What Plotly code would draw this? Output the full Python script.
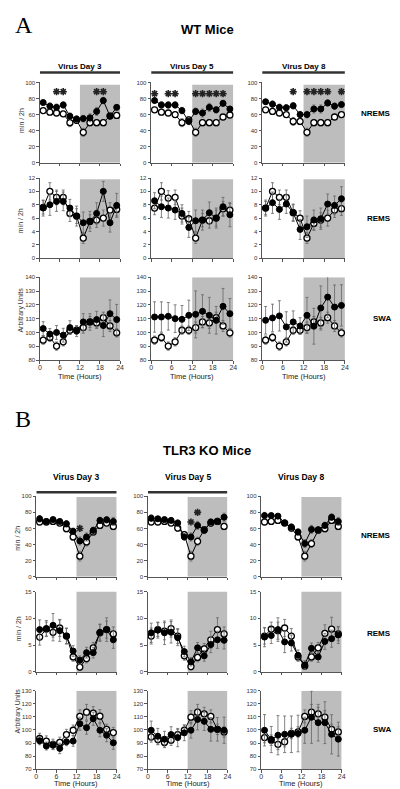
import plotly.graph_objects as go

W, H = 400, 789

HOURS = [1, 3, 5, 7, 9, 11, 13, 15, 17, 19, 21, 23]
TICK_HOURS = [0, 6, 12, 18, 24]
DARK_START, DARK_END = 12, 24
DAYS = ["Virus Day 3", "Virus Day 5", "Virus Day 8"]
ROWS = ["NREMS", "REMS", "SWA"]

# ---------------- Panel A: WT mice ----------------
A_NREMS_D3_VIRUS = [75, 70.5, 69, 72, 58, 54.5, 55, 56, 64, 77.5, 58, 69]
A_NREMS_D3_SHAM = [65, 63, 62, 61, 50, 53, 38, 50, 50, 50, 58.5, 59]
A_NREMS_D5_VIRUS = [77.5, 72, 72, 72, 65, 51.5, 64, 62, 69, 66, 74, 67]
A_NREMS_D5_SHAM = [66, 63, 62, 60, 50, 53.5, 38, 50, 50, 50, 57, 59.5]
A_NREMS_D8_VIRUS = [76, 73, 69, 68.5, 71, 60, 60, 67, 67, 74.5, 70.5, 72.5]
A_NREMS_D8_SHAM = [66, 64, 62, 60, 51.5, 51.5, 38, 50, 50, 50, 57, 60]
A_NREMS_VIRUS_ERR = [3, 4, 4, 4, 4, 4, 4, 5, 5, 4, 4, 3]
A_NREMS_SHAM_ERR = [3, 3, 3, 3, 5, 4, 5, 4, 4, 4, 3, 3]

A_REMS_D3_VIRUS = [7.5, 8.0, 8.5, 8.5, 7.5, 6.3, 5.3, 5.5, 6.7, 10, 5.3, 7.9]
A_REMS_D3_SHAM = [7.6, 10, 9.1, 9.1, 6.7, 6.3, 3, 5.5, 5.7, 6, 7.2, 7.3]
A_REMS_D5_VIRUS = [8.6, 7.7, 7.5, 7.2, 6.7, 4.6, 5.6, 5.7, 6.8, 6, 7.7, 6.5]
A_REMS_D5_SHAM = [7.5, 10, 9, 9.1, 6.3, 5.9, 3, 5.7, 5.6, 6, 7.4, 7.2]
A_REMS_D8_VIRUS = [7.5, 8.3, 7.3, 8.1, 6.8, 4.3, 4.7, 5.7, 5.9, 8.1, 7.9, 8.9]
A_REMS_D8_SHAM = [7.5, 10, 9.1, 9.1, 6.8, 6, 3, 5.2, 5.7, 6, 7.2, 7.4]
A_REMS_VIRUS_ERR = [1.2, 1.6, 1.5, 1.4, 1.3, 1.5, 1.6, 1.5, 1.6, 1.5, 1.4, 1.8]
A_REMS_SHAM_ERR = [1.0, 1.3, 1.1, 1.1, 1.2, 1.1, 0.8, 1.0, 1.1, 1.2, 1.1, 1.0]

A_SWA_D3_VIRUS = [102.8, 98.8, 100, 98, 103.5, 101, 107.6, 107.6, 109.3, 105, 113.6, 109.3]
A_SWA_D3_SHAM = [94.4, 96.4, 90.1, 93.2, 101.6, 101.6, 103.5, 107.6, 106.9, 110.7, 104.7, 99.7]
A_SWA_D5_VIRUS = [111.2, 111.2, 111.7, 110, 109.5, 112.4, 113.1, 115.3, 112.4, 108.8, 118.9, 113.6]
A_SWA_D5_SHAM = [94.4, 96.4, 90.1, 93.2, 101.6, 101.6, 103.5, 107.6, 106.9, 110.7, 104.7, 99.7]
A_SWA_D8_VIRUS = [108.8, 110.5, 112, 104, 107.6, 104.7, 112.4, 104.5, 117.7, 125.6, 118.4, 119.6]
A_SWA_D8_SHAM = [94.4, 96.4, 90.1, 93.2, 101.6, 101.6, 103.5, 107.6, 106.9, 110.7, 104.7, 99.7]
A_SWA_D3_VIRUS_ERR = [5, 4, 5, 5, 5, 4, 6, 6, 6, 8, 10, 11]
A_SWA_D5_VIRUS_ERR = [11, 11, 10, 10, 10, 11, 17, 12, 13, 10, 13, 11]
A_SWA_D8_VIRUS_ERR = [10, 10, 11, 11, 8, 6, 13, 13, 16, 15, 16, 15]
A_SWA_SHAM_ERR = [3, 3, 3, 3, 3, 3, 4, 4, 4, 4, 4, 3]

A_STAR_HOURS = [[5, 7, 17, 19], [1, 5, 7, 13, 15, 17, 19, 21], [9, 13, 15, 17, 19, 23]]
A_STAR_LEVEL = [88.5, 86, 88.5]

# ---------------- Panel B: TLR3 KO mice ----------------
B_NREMS_D3_VIRUS = [72, 68.7, 71, 68.7, 65.8, 56.4, 44.4, 49.4, 57.6, 70, 70.8, 68.7]
B_NREMS_D3_SHAM = [68, 68, 68.7, 66.7, 59.7, 49.4, 25.5, 43.2, 55.6, 63.8, 66.7, 62.5]
B_NREMS_D5_VIRUS = [72.8, 72, 71, 70, 66.7, 49.4, 49.4, 63.8, 57.6, 68, 68.7, 74]
B_NREMS_D5_SHAM = [68, 68, 68.7, 66.7, 60.5, 52.3, 25.5, 44, 58.4, 66.7, 68.7, 62.5]
B_NREMS_D8_VIRUS = [76, 76, 75.3, 67, 61.7, 55.6, 41.2, 58.8, 58.4, 63.8, 74, 68.7]
B_NREMS_D8_SHAM = [68, 68.7, 70, 66.7, 60.5, 49.4, 25.5, 41.2, 57.6, 59.7, 70, 62.5]
B_NREMS_VIRUS_ERR = [4, 3, 3, 3, 4, 4, 5, 5, 4, 4, 4, 5]
B_NREMS_SHAM_ERR = [3, 3, 3, 3, 4, 4, 6, 5, 4, 4, 3, 4]

B_REMS_D3_VIRUS = [7.9, 8.1, 8.7, 7.7, 6.7, 3.9, 2.2, 3.6, 3.6, 7.4, 7.9, 6.0]
B_REMS_D3_SHAM = [6.5, 8.0, 7.4, 8.2, 6.7, 2.8, 0.9, 2.5, 4.5, 7.3, 7.9, 7.1]
B_REMS_D5_VIRUS = [7.3, 7.8, 7.3, 7.4, 6.4, 3.8, 1.9, 4.5, 3.0, 5.1, 6.0, 5.9]
B_REMS_D5_SHAM = [6.7, 7.9, 7.6, 8.1, 6.7, 3.0, 1.0, 2.7, 4.3, 6.0, 7.9, 7.1]
B_REMS_D8_VIRUS = [6.5, 6.8, 7.9, 5.6, 5.4, 3.1, 1.3, 4.4, 2.8, 5.7, 6.2, 6.9]
B_REMS_D8_SHAM = [6.7, 8.0, 7.7, 8.2, 6.7, 2.8, 1.1, 2.8, 4.5, 7.2, 8.0, 7.1]
B_REMS_VIRUS_ERR = [1.8, 1.5, 2.2, 2.0, 1.5, 1.0, 0.8, 1.0, 1.0, 1.5, 1.6, 1.6]
B_REMS_SHAM_ERR = [1.5, 1.3, 1.6, 1.6, 1.4, 0.8, 0.6, 0.8, 1.0, 1.6, 2.2, 1.3]

B_SWA_D3_VIRUS = [91.7, 87.7, 88.4, 85.9, 91, 91.5, 104.8, 101.8, 108.6, 99.8, 96, 90.2]
B_SWA_D3_SHAM = [93.5, 91.5, 89, 90.5, 96.5, 99.8, 110.4, 113.6, 112.9, 110.6, 100.5, 98]
B_SWA_D5_VIRUS = [99.8, 95.2, 93, 96.5, 94.2, 97.8, 99.8, 108.1, 106.6, 100.5, 100.5, 99.8]
B_SWA_D5_SHAM = [94.7, 92.7, 90.5, 92.2, 96.5, 99.8, 109.8, 113.6, 112.4, 110.4, 100.5, 98.5]
B_SWA_D8_VIRUS = [99.8, 92.7, 96, 96.7, 96.7, 97.3, 99.8, 109.8, 105.6, 105.6, 96.7, 93]
B_SWA_D8_SHAM = [94.2, 92.2, 89, 91, 97.3, 98.5, 110.4, 113.6, 112.4, 109.8, 100.5, 98.5]
B_SWA_D3_VIRUS_ERR = [3, 3, 3, 4, 3, 4, 5, 5, 5, 5, 5, 5]
B_SWA_D5_VIRUS_ERR = [7, 6, 6, 6, 7, 6, 6, 8, 7, 9, 9, 10]
B_SWA_D8_VIRUS_ERR = [12, 10, 15, 14, 14, 14, 10, 20, 14, 16, 15, 13]
B_SWA_SHAM_ERR = [4, 4, 4, 4, 4, 4, 5, 6, 5, 5, 4, 4]

B_STAR_HOURS = [[13], [13, 15], []]
B_STAR_LEVELS = [[60], [68, 80], []]

# ---------------- Layout geometry (pixels) ----------------
PANELS = {
    "A": {
        "rows": [(72, 153, [0, 100], 20, "min / 2h"),
                 (168.3, 249, [0, 12], 2, "min / 2h"),
                 (268.3, 351.7, [80, 140], 10, "Arbitrary Units")],
        "shade_top": [97, 11.8, 140],
        "cols": [(30.3, 111.7), (143.3, 226.7), (256, 340)],
        "title": "WT Mice", "title_y": 19, "letter": "A", "letter_y": 14,
        "day_y": 55.5, "bar_y": 62, "bars": [0, 1, 2],
        "row_label_y": [103, 209, 310], "ytitle_y": [110, 211, 301], "ytitle_x": 11,
        "time_y": 368.5, "day_size": 8,
    },
    "B": {
        "rows": [(489, 570, [0, 100], 20, "min / 2h"),
                 (585, 666, [0, 15], 5, "min / 2h"),
                 (685, 764, [70, 130], 10, "Arbitrary Units")],
        "shade_top": [99, 15, 130],
        "cols": [(26.7, 108.3), (140, 220.7), (255, 336.7)],
        "title": "TLR3 KO Mice", "title_y": 443, "letter": "B", "letter_y": 411,
        "day_y": 470, "bar_y": 485, "bars": [0, 1],
        "row_label_y": [529, 627, 724], "ytitle_y": [531, 622, 705], "ytitle_x": 8,
        "time_y": 778.5, "day_size": 8.5,
    },
}

DATA = {
    "A": [
        [(A_NREMS_D3_VIRUS, A_NREMS_VIRUS_ERR, A_NREMS_D3_SHAM, A_NREMS_SHAM_ERR),
         (A_NREMS_D5_VIRUS, A_NREMS_VIRUS_ERR, A_NREMS_D5_SHAM, A_NREMS_SHAM_ERR),
         (A_NREMS_D8_VIRUS, A_NREMS_VIRUS_ERR, A_NREMS_D8_SHAM, A_NREMS_SHAM_ERR)],
        [(A_REMS_D3_VIRUS, A_REMS_VIRUS_ERR, A_REMS_D3_SHAM, A_REMS_SHAM_ERR),
         (A_REMS_D5_VIRUS, A_REMS_VIRUS_ERR, A_REMS_D5_SHAM, A_REMS_SHAM_ERR),
         (A_REMS_D8_VIRUS, A_REMS_VIRUS_ERR, A_REMS_D8_SHAM, A_REMS_SHAM_ERR)],
        [(A_SWA_D3_VIRUS, A_SWA_D3_VIRUS_ERR, A_SWA_D3_SHAM, A_SWA_SHAM_ERR),
         (A_SWA_D5_VIRUS, A_SWA_D5_VIRUS_ERR, A_SWA_D5_SHAM, A_SWA_SHAM_ERR),
         (A_SWA_D8_VIRUS, A_SWA_D8_VIRUS_ERR, A_SWA_D8_SHAM, A_SWA_SHAM_ERR)],
    ],
    "B": [
        [(B_NREMS_D3_VIRUS, B_NREMS_VIRUS_ERR, B_NREMS_D3_SHAM, B_NREMS_SHAM_ERR),
         (B_NREMS_D5_VIRUS, B_NREMS_VIRUS_ERR, B_NREMS_D5_SHAM, B_NREMS_SHAM_ERR),
         (B_NREMS_D8_VIRUS, B_NREMS_VIRUS_ERR, B_NREMS_D8_SHAM, B_NREMS_SHAM_ERR)],
        [(B_REMS_D3_VIRUS, B_REMS_VIRUS_ERR, B_REMS_D3_SHAM, B_REMS_SHAM_ERR),
         (B_REMS_D5_VIRUS, B_REMS_VIRUS_ERR, B_REMS_D5_SHAM, B_REMS_SHAM_ERR),
         (B_REMS_D8_VIRUS, B_REMS_VIRUS_ERR, B_REMS_D8_SHAM, B_REMS_SHAM_ERR)],
        [(B_SWA_D3_VIRUS, B_SWA_D3_VIRUS_ERR, B_SWA_D3_SHAM, B_SWA_SHAM_ERR),
         (B_SWA_D5_VIRUS, B_SWA_D5_VIRUS_ERR, B_SWA_D5_SHAM, B_SWA_SHAM_ERR),
         (B_SWA_D8_VIRUS, B_SWA_D8_VIRUS_ERR, B_SWA_D8_SHAM, B_SWA_SHAM_ERR)],
    ],
}

AXIS_COLOR = "#555555"
FONT = "Liberation Sans, Arial"
TICK_FONT = dict(family=FONT, size=6, color="#333333")
SHADE = "#bdbdbd"
ERR_COLOR = "#666666"


def px(x):
    return x / W


def py(y):
    return 1 - y / H


def label(text, x, y, size, color="black", family=FONT, xanchor="center", angle=0):
    return dict(text=text, x=x, y=y, xref="paper", yref="paper", showarrow=False,
                xanchor=xanchor, yanchor="middle", textangle=angle, borderpad=0,
                font=dict(family=family, size=size, color=color))


fig = go.Figure()
layout = {}
shapes = []
annotations = []
k = 0

for pname, P in PANELS.items():
    for r, (top, bot, yrange, dtick, ytitle) in enumerate(P["rows"]):
        for c, (left, right) in enumerate(P["cols"]):
            k += 1
            xn = "xaxis" if k == 1 else f"xaxis{k}"
            yn = "yaxis" if k == 1 else f"yaxis{k}"
            xr = "x" if k == 1 else f"x{k}"
            yr = "y" if k == 1 else f"y{k}"
            layout[xn] = dict(
                domain=[px(left), px(right)], range=[0, 24], anchor=yr,
                tickvals=TICK_HOURS, showticklabels=(r == 2),
                ticks="outside", ticklen=2.5, tickwidth=1, tickcolor=AXIS_COLOR,
                showline=True, linecolor=AXIS_COLOR, linewidth=1,
                showgrid=False, zeroline=False, ticklabelstandoff=-2,
                tickfont=dict(family=FONT, size=7, color="#333333"),
            )
            layout[yn] = dict(
                domain=[py(bot), py(top)], range=yrange, anchor=xr, dtick=dtick,
                tick0=yrange[0],
                ticks="outside", ticklen=2.5, tickwidth=1, tickcolor=AXIS_COLOR,
                showline=True, linecolor=AXIS_COLOR, linewidth=1,
                showgrid=False, zeroline=False, tickfont=TICK_FONT,
            )
            # dark-period shading
            shapes.append(dict(type="rect", xref=xr, yref=yr, x0=DARK_START, x1=DARK_END,
                               y0=yrange[0], y1=P["shade_top"][r], fillcolor=SHADE,
                               line=dict(width=0), layer="below"))
            virus, verr, sham, serr = DATA[pname][r][c]
            # sham (open circles)
            fig.add_trace(go.Scatter(
                x=HOURS, y=sham, xaxis=xr, yaxis=yr, mode="lines+markers",
                line=dict(color="black", width=1),
                marker=dict(symbol="circle", size=6, color="white",
                            line=dict(color="black", width=1.3)),
                error_y=dict(type="data", array=serr, color=ERR_COLOR,
                             thickness=0.8, width=1.5),
                showlegend=False, cliponaxis=False))
            # virus (filled circles)
            fig.add_trace(go.Scatter(
                x=HOURS, y=virus, xaxis=xr, yaxis=yr, mode="lines+markers",
                line=dict(color="black", width=1),
                marker=dict(symbol="circle", size=6, color="black",
                            line=dict(color="black", width=1)),
                error_y=dict(type="data", array=verr, color=ERR_COLOR,
                             thickness=0.8, width=1.5),
                showlegend=False, cliponaxis=False))
            # significance stars
            if r == 0:
                if pname == "A":
                    sh = A_STAR_HOURS[c]
                    sl = [A_STAR_LEVEL[c]] * len(sh)
                else:
                    sh = B_STAR_HOURS[c]
                    sl = B_STAR_LEVELS[c]
                if sh:
                    fig.add_trace(go.Scatter(
                        x=sh, y=sl, xaxis=xr, yaxis=yr, mode="markers",
                        marker=dict(symbol="asterisk-open", size=6, color="#222222",
                                    line=dict(color="#222222", width=1.6)),
                        showlegend=False))
            # top row extras
            if r == 0:
                annotations.append(label(f"<b>{DAYS[c]}</b>", (px(left) + px(right)) / 2,
                                         py(P["day_y"]), P["day_size"]))
                if c in P["bars"]:
                    shapes.append(dict(type="line", xref=xr, yref="paper", x0=0, x1=24,
                                       y0=py(P["bar_y"]), y1=py(P["bar_y"]),
                                       line=dict(color="#333333", width=2.5)))
            if c == 0:
                annotations.append(label(ytitle, px(P["ytitle_x"]), py(P["ytitle_y"][r]), 7,
                                         color="#333333", angle=-90))
            if r == 2:
                annotations.append(label("Time (Hours)", (px(left) + px(right)) / 2,
                                         py(P["time_y"]), 7.5, color="#222222"))
        annotations.append(label(f"<b>{ROWS[r]}</b>", px(388), py(P["row_label_y"][r]), 8,
                                 xanchor="right"))
    annotations.append(label(f"<b>{P['title']}</b>", 0.5, py(P["title_y"]), 13))
    annotations.append(label(P["letter"], px(4), py(P["letter_y"]), 24,
                             family="Liberation Serif, Times New Roman", xanchor="left"))

fig.update_layout(
    width=W, height=H, margin=dict(l=0, r=0, t=0, b=0),
    paper_bgcolor="white", plot_bgcolor="rgba(0,0,0,0)",
    shapes=shapes, annotations=annotations, **layout)

fig.write_html("out.html")
